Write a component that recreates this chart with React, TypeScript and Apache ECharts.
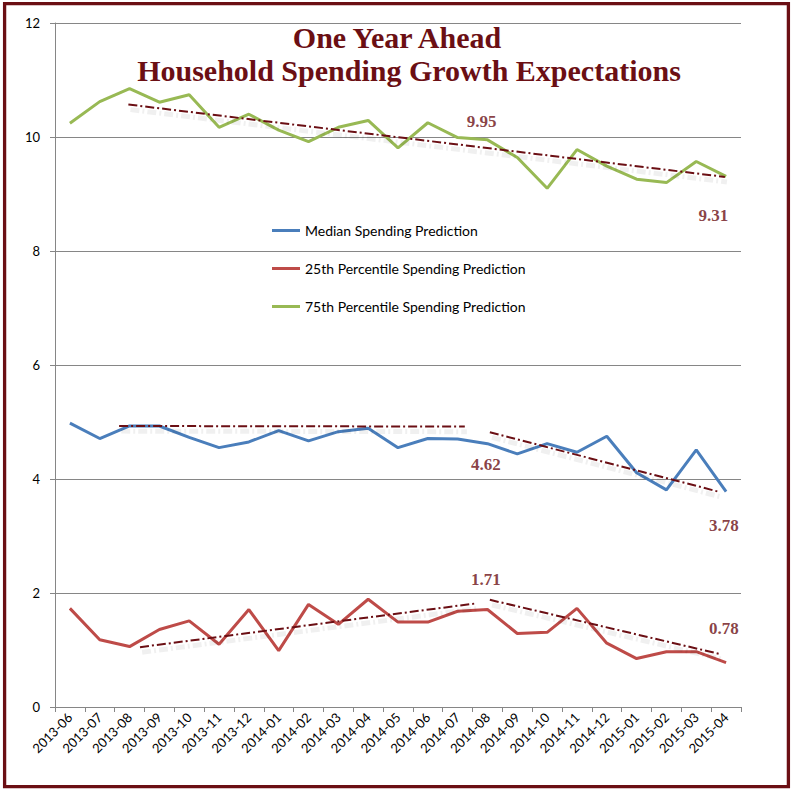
import React, { useEffect, useRef } from "react";
import * as echarts from "echarts";

const categories = [
  "2013-06", "2013-07", "2013-08", "2013-09", "2013-10", "2013-11", "2013-12",
  "2014-01", "2014-02", "2014-03", "2014-04", "2014-05", "2014-06", "2014-07",
  "2014-08", "2014-09", "2014-10", "2014-11", "2014-12", "2015-01", "2015-02",
  "2015-03", "2015-04",
];

const medianSpending = [
  4.98, 4.71, 4.93, 4.93, 4.73, 4.55, 4.65, 4.85, 4.67, 4.83, 4.89, 4.55,
  4.71, 4.7, 4.62, 4.44, 4.62, 4.47, 4.75, 4.11, 3.81, 4.51, 3.78,
];

const p25Spending = [
  1.73, 1.18, 1.06, 1.36, 1.51, 1.1, 1.71, 0.99, 1.8, 1.45, 1.89, 1.49,
  1.49, 1.68, 1.71, 1.29, 1.31, 1.73, 1.12, 0.85, 0.97, 0.97, 0.78,
];

const p75Spending = [
  10.24, 10.62, 10.85, 10.61, 10.74, 10.17, 10.4, 10.12, 9.92, 10.17, 10.29, 9.81,
  10.25, 9.99, 9.95, 9.64, 9.1, 9.78, 9.49, 9.26, 9.2, 9.57, 9.31,
];

const seriesNames = [
  "Median Spending Prediction",
  "25th Percentile Spending Prediction",
  "75th Percentile Spending Prediction",
];

const yTicks = [0, 2, 4, 6, 8, 10, 12];

// trend arrows: [xStart, yStart, xEnd, yEnd] on a continuous month scale (0..23)
const trendArrows = [
  [2.46, 10.57, 22.46, 9.3],
  [2.15, 4.93, 13.74, 4.92],
  [14.58, 4.82, 22.23, 3.78],
  [2.85, 1.05, 14.15, 1.82],
  [14.58, 1.88, 22.29, 0.93],
];

// annotation labels: [x, y, text]
const annotations: [number, number, string][] = [
  [14.3, 10.27, "9.95"],
  [22.07, 8.63, "9.31"],
  [14.45, 4.25, "4.62"],
  [22.43, 3.18, "3.78"],
  [14.45, 2.24, "1.71"],
  [22.43, 1.37, "0.78"],
];

const titleLines = ["One Year Ahead", "Household Spending Growth Expectations"];

const MAROON = "#6B0F14";

export default function App() {
  const ref = useRef<HTMLDivElement>(null);

  useEffect(() => {
    if (!ref.current) return;
    const chart = echarts.init(ref.current, null, { renderer: "svg" });
    const sans = "Lato, 'Open Sans', sans-serif";
    const serif = "'Liberation Serif', 'DejaVu Serif', serif";

    const lineSeries = (name: string, data: number[], color: string) => ({
      name,
      type: "line",
      data,
      symbol: "none",
      lineStyle: { color, width: 3 },
      itemStyle: { color },
      z: 3,
    });

    // shadow offset for the trend arrows (a soft grey copy, as in the original)
    const shX = 0.07;
    const shY = -0.09;

    const option: any = {
      animation: false,
      backgroundColor: "#ffffff",
      grid: { left: 55, right: 55, top: 23, bottom: 84, containLabel: false },
      legend: {
        data: seriesNames,
        orient: "vertical",
        left: 267,
        top: 217,
        padding: 5,
        icon: "rect",
        itemWidth: 28,
        itemHeight: 3,
        itemGap: 21,
        textStyle: { fontFamily: sans, fontSize: 14, color: "#000", lineHeight: 17 },
      },
      xAxis: [
        {
          type: "category",
          data: categories,
          boundaryGap: true,
          axisLine: { lineStyle: { color: "#868686", width: 1 } },
          axisTick: { show: true, interval: 0, length: 5, lineStyle: { color: "#868686" } },
          axisLabel: {
            interval: 0,
            rotate: 45,
            fontFamily: sans,
            fontSize: 13,
            color: "#000",
            margin: 8,
          },
          splitLine: { show: false },
        },
        {
          type: "value",
          min: 0,
          max: categories.length,
          show: false,
        },
      ],
      yAxis: {
        type: "value",
        min: yTicks[0],
        max: yTicks[yTicks.length - 1],
        interval: 2,
        axisLine: { show: true, lineStyle: { color: "#868686", width: 1 } },
        axisTick: { show: true, length: 5, lineStyle: { color: "#868686" } },
        axisLabel: { fontFamily: sans, fontSize: 13, color: "#000", margin: 15 },
        splitLine: { show: true, lineStyle: { color: "#868686", width: 1 } },
      },
      series: [
        lineSeries(seriesNames[0], medianSpending, "#4A7EBB"),
        lineSeries(seriesNames[1], p25Spending, "#BE4B48"),
        lineSeries(seriesNames[2], p75Spending, "#98B954"),
        {
          name: "trendShadows",
          type: "line",
          xAxisIndex: 1,
          data: [],
          silent: true,
          markLine: {
            silent: true,
            symbol: ["none", "none"],
            label: { show: false },
            emphasis: { disabled: true },
            lineStyle: {
              color: "rgba(0,0,0,0.06)",
              width: 5,
              type: [9, 3, 2, 3],
            },
            data: trendArrows.map((t) => [
              { coord: [t[0] + shX, t[1] + shY] },
              { coord: [t[2] + shX, t[3] + shY] },
            ]),
          },
          z: 2,
        },
        {
          name: "trends",
          type: "line",
          xAxisIndex: 1,
          data: [],
          silent: true,
          markLine: {
            silent: true,
            symbol: ["none", "arrow"],
            symbolSize: [0, 7],
            label: { show: false },
            emphasis: { disabled: true },
            lineStyle: {
              color: MAROON,
              width: 2,
              type: [9, 3, 2, 3],
            },
            data: trendArrows.map((t) => [
              { coord: [t[0], t[1]] },
              { coord: [t[2], t[3]] },
            ]),
          },
          z: 4,
        },
        {
          name: "annotations",
          type: "scatter",
          xAxisIndex: 1,
          symbol: "circle",
          symbolSize: 1,
          silent: true,
          itemStyle: { color: "rgba(0,0,0,0)" },
          data: annotations.map((a) => ({ value: [a[0], a[1]], name: a[2] })),
          label: {
            show: true,
            position: "inside",
            formatter: (p: any) => p.name,
            fontFamily: serif,
            fontWeight: "bold",
            fontSize: 17,
            color: MAROON,
          },
          z: 5,
        },
      ],
      graphic: [
        {
          type: "text",
          x: 397,
          y: 37,
          style: {
            text: titleLines[0],
            fontFamily: serif,
            fontWeight: "bold",
            fontSize: 30,
            fill: MAROON,
            textAlign: "center",
            textVerticalAlign: "middle",
          },
          z: 10,
        },
        {
          type: "text",
          x: 409,
          y: 70,
          style: {
            text: titleLines[1],
            fontFamily: serif,
            fontWeight: "bold",
            fontSize: 30,
            fill: MAROON,
            textAlign: "center",
            textVerticalAlign: "middle",
          },
          z: 10,
        },
        {
          type: "rect",
          shape: { x: 4.6, y: 3.6, width: 783.8, height: 783 },
          style: { fill: "none", stroke: MAROON, lineWidth: 3.3 },
          silent: true,
          z: 10,
        },
      ],
    };

    chart.setOption(option);
    return () => chart.dispose();
  }, []);

  return (
    <div
      ref={ref}
      style={{ position: "fixed", left: 0, top: 0, width: 796, height: 791, background: "#fff" }}
    />
  );
}
